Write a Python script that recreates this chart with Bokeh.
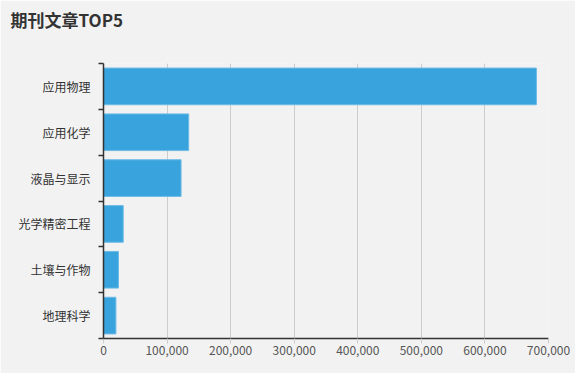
from bokeh.plotting import figure
from bokeh.models import (ColumnDataSource, Range1d, LinearAxis, FixedTicker,
                          NumeralTickFormatter, Title)
from bokeh.embed import file_html
from bokeh.resources import INLINE

# ---- data ----
title_text = "期刊文章TOP5"
categories = ["应用物理", "应用化学", "液晶与显示", "光学精密工程", "土壤与作物", "地理科学"]
values = [681000, 134000, 122000, 31000, 23500, 19500]
x_ticks = [0, 100000, 200000, 300000, 400000, 500000, 600000, 700000]

n = len(categories)
centers = [n - 1 - i + 0.5 for i in range(n)]
boundaries = list(range(n + 1))

src = ColumnDataSource(dict(cat=categories, val=values, y=centers))

BG = "#f2f2f2"
FONT = "Noto Sans CJK SC"

p = figure(width=575, height=373, output_backend="svg", toolbar_location=None, title=None,
           x_range=Range1d(0, 700000), y_range=Range1d(0, n),
           x_axis_location=None, y_axis_location=None,
           min_border_left=103, min_border_right=27, min_border_top=0, min_border_bottom=35)
p.background_fill_color = BG
p.border_fill_color = BG
p.outline_line_color = None

p.hbar(y="y", right="val", left=0, height=0.8, source=src,
       fill_color="#38a3dc", line_color="#6dbbe6", line_width=1)

# x axis
xax = LinearAxis(ticker=FixedTicker(ticks=x_ticks),
                 formatter=NumeralTickFormatter(format="0,0"))
xax.axis_line_color = "#333333"
xax.axis_line_width = 1.5
xax.major_tick_line_color = "#cccccc"
xax.major_tick_out = 5
xax.major_tick_in = 0
xax.minor_tick_line_color = None
xax.major_label_text_font = FONT
xax.major_label_text_font_size = "12px"
xax.major_label_text_color = "#555555"
xax.major_label_standoff = 2
p.add_layout(xax, "below")

# y axis: labels at centers, ticks at boundaries
yax = LinearAxis(ticker=FixedTicker(ticks=centers, minor_ticks=boundaries))
yax.major_label_overrides = {c: name for c, name in zip(centers, categories)}
yax.axis_line_color = "#333333"
yax.axis_line_width = 1.5
yax.major_tick_line_color = None
yax.major_tick_out = 0
yax.major_tick_in = 0
yax.minor_tick_line_color = "#333333"
yax.minor_tick_line_width = 1.5
yax.minor_tick_out = 5
yax.minor_tick_in = 0
yax.major_label_text_font = FONT
yax.major_label_text_font_size = "12px"
yax.major_label_text_color = "#333333"
yax.major_label_standoff = 8
p.add_layout(yax, "left")

p.xgrid.grid_line_color = "#cccccc"
p.xgrid.ticker = FixedTicker(ticks=x_ticks)
p.ygrid.grid_line_color = None

# spacer nearest the frame, then the real title, then a thin top spacer
p.add_layout(Title(text=" ", text_font_size="27px", standoff=0), "above")
p.add_layout(Title(text=title_text, text_font=FONT, text_font_size="17px",
                   text_font_style="bold", text_color="#333333", align="left",
                   offset=-93, standoff=0), "above")
p.add_layout(Title(text=" ", text_font_size="2px", standoff=0), "above")

html = file_html(p, INLINE)
open("out.html", "w").write(html)
